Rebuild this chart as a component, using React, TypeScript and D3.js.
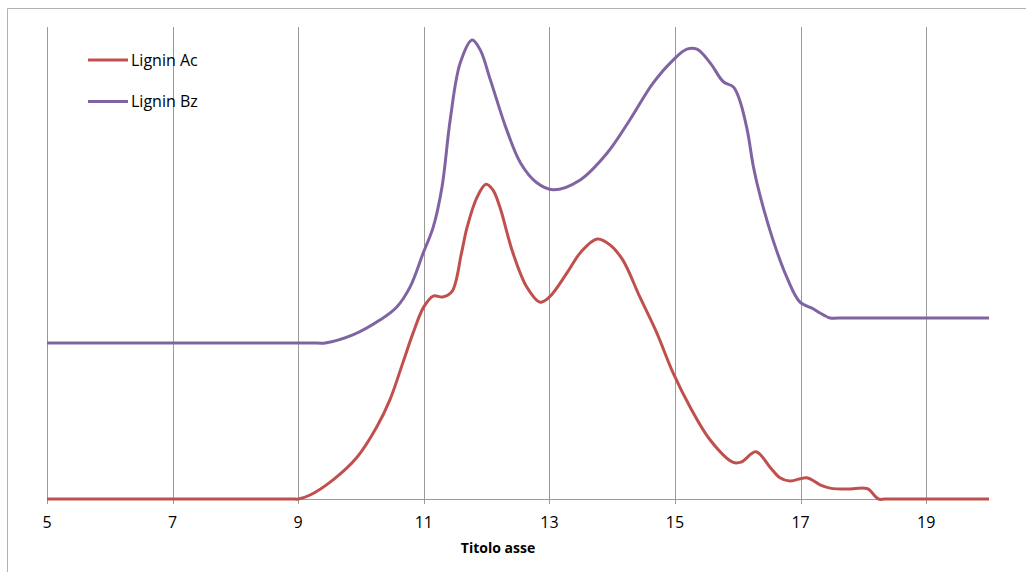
import React from "react";
import * as d3 from "d3";

const redX = [5, 8.9, 9, 9.19, 9.55, 9.94, 10.25, 10.46, 10.67, 10.83, 11.0, 11.15, 11.3, 11.45, 11.6, 11.69, 11.85, 11.99, 12.1, 12.21, 12.42, 12.64, 12.85, 13.0, 13.28, 13.5, 13.76, 13.97, 14.17, 14.44, 14.71, 14.97, 15.24, 15.56, 15.92, 16.05, 16.29, 16.51, 16.67, 16.83, 17.1, 17.31, 17.47, 17.74, 18.0, 18.08, 18.24, 18.35, 20];
const redY = [0, 0, 0, 0.85, 4.0, 8.9, 15.25, 21.0, 29.0, 35.2, 40.7, 43.0, 42.8, 44.0, 52.1, 57.6, 64.0, 66.7, 65.5, 61.9, 52.1, 44.9, 41.7, 42.8, 47.9, 52.3, 55.1, 53.8, 50.6, 42.8, 35.2, 26.7, 19.5, 12.5, 7.8, 7.8, 10.0, 6.8, 4.5, 3.8, 4.5, 3.0, 2.3, 2.1, 2.3, 2.1, 0, 0, 0];

const purpleX = [5, 9.3, 9.43, 9.87, 10.3, 10.57, 10.78, 10.99, 11.15, 11.29, 11.42, 11.58, 11.77, 11.9, 12.06, 12.32, 12.54, 12.8, 13.06, 13.49, 13.92, 14.28, 14.65, 14.97, 15.19, 15.35, 15.56, 15.77, 15.93, 16.03, 16.15, 16.25, 16.36, 16.56, 16.78, 16.99, 17.2, 17.31, 17.47, 17.6, 20];
const purpleY = [33.05, 33.05, 33.05, 34.75, 37.9, 40.7, 44.9, 52.1, 57.6, 66.1, 80.3, 92.4, 97.25, 95.1, 88.8, 78.2, 71.2, 67.0, 65.5, 67.6, 73.3, 80.3, 88.1, 93.0, 95.3, 95.3, 92.4, 88.4, 87.3, 84.5, 78.2, 70.3, 64.0, 54.9, 47.0, 41.7, 40.3, 39.4, 38.35, 38.35, 38.35];

const xTicks = [5, 7, 9, 11, 13, 15, 17, 19];
const seriesNames = ["Lignin Ac", "Lignin Bz"];
const seriesColors = ["#C0504D", "#8064A2"];
const axisTitle = "Titolo asse";

export default function App() {
  const W = 1026, H = 572;
  const x = d3.scaleLinear().domain([5, 20]).range([47, 989]);
  const y = d3.scaleLinear().domain([0, 100]).range([499, 27]);
  const line = d3
    .line<[number, number]>()
    .x((d) => x(d[0]))
    .y((d) => y(d[1]))
    .curve(d3.curveCatmullRom.alpha(0.5));
  const redPts = redX.map((v, i) => [v, redY[i]] as [number, number]);
  const purplePts = purpleX.map((v, i) => [v, purpleY[i]] as [number, number]);
  const font = "'Open Sans', Lato, sans-serif";

  return (
    <svg
      width={W}
      height={H}
      style={{ position: "fixed", left: 0, top: 0, background: "#fff" }}
    >
      <rect x={0} y={0} width={W} height={H} fill="#fff" />
      {/* chart frame */}
      <line x1={7.5} y1={8.5} x2={W} y2={8.5} stroke="#b3b3b3" strokeWidth={1} />
      <line x1={7.5} y1={8.5} x2={7.5} y2={H} stroke="#b3b3b3" strokeWidth={1} />
      {/* gridlines */}
      {xTicks.map((t) => (
        <line
          key={t}
          x1={Math.round(x(t)) + 0.5}
          x2={Math.round(x(t)) + 0.5}
          y1={y(100)}
          y2={y(0) + 5}
          stroke="#9a9a9a"
          strokeWidth={1}
        />
      ))}
      {/* x axis */}
      <line x1={x(5)} x2={x(20)} y1={y(0) + 0.5} y2={y(0) + 0.5} stroke="#9a9a9a" strokeWidth={1} />
      {xTicks.map((t) => (
        <text
          key={"l" + t}
          x={x(t)}
          y={528}
          textAnchor="middle"
          fontFamily={font}
          fontSize={16}
          fill="#000"
        >
          {t}
        </text>
      ))}
      <text
        x={498}
        y={553}
        textAnchor="middle"
        fontFamily={font}
        fontSize={14}
        fontWeight="bold"
        fill="#000"
      >
        {axisTitle}
      </text>
      {/* series */}
      <path d={line(redPts) || ""} fill="none" stroke={seriesColors[0]} strokeWidth={3} strokeLinejoin="round" />
      <path d={line(purplePts) || ""} fill="none" stroke={seriesColors[1]} strokeWidth={3} strokeLinejoin="round" />
      {/* legend */}
      {seriesNames.map((n, i) => (
        <g key={n}>
          <line x1={88} x2={128} y1={60 + i * 41.5} y2={60 + i * 41.5} stroke={seriesColors[i]} strokeWidth={3} />
          <text x={131} y={65.5 + i * 41.5} fontFamily={font} fontSize={16} fill="#000">
            {n}
          </text>
        </g>
      ))}
    </svg>
  );
}
